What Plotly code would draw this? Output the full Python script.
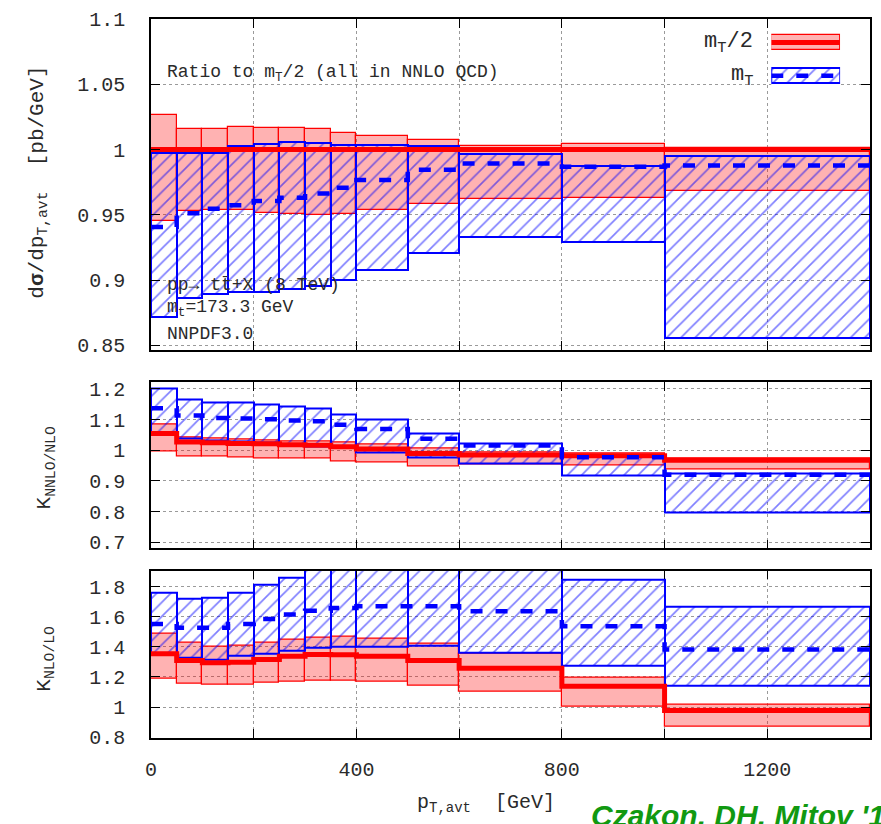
import plotly.graph_objects as go

# ---------------- data ----------------
bin_edges = [0, 50, 100, 150, 200, 250, 300, 350, 400, 500, 600, 800, 1000, 1400]

# top panel: ratio to mT/2 (NNLO)
top_half_lo = [0.9453, 0.953, 0.954, 0.954, 0.9517, 0.9504, 0.9497, 0.9504, 0.9535, 0.958, 0.962, 0.9631, 0.968]
top_half_hi = [1.0267, 1.016, 1.0158, 1.017, 1.0166, 1.0166, 1.016, 1.0127, 1.0102, 1.0076, 1.003, 1.0043, 1.001]
top_half_c = [1.0, 1.0, 1.0, 1.0, 1.0, 1.0, 1.0, 1.0, 1.0, 1.0, 1.0, 1.0, 1.0]
top_mt_lo = [0.8715, 0.8863, 0.8893, 0.8906, 0.8911, 0.8931, 0.8952, 0.9003, 0.908, 0.9211, 0.9326, 0.9293, 0.8557]
top_mt_hi = [0.997, 0.9975, 0.9975, 1.0026, 1.0043, 1.0056, 1.005, 1.0038, 1.0038, 1.0026, 0.9967, 0.9875, 0.9954]
top_mt_c = [0.9407, 0.9511, 0.9547, 0.9573, 0.9606, 0.9631, 0.9664, 0.9708, 0.9766, 0.9845, 0.9893, 0.9868, 0.9878]

# middle panel: K NNLO/NLO
mid_half_lo = [0.997, 0.9805, 0.978, 0.977, 0.974, 0.973, 0.973, 0.964, 0.961, 0.948, 0.952, 0.950, 0.937]
mid_half_hi = [1.083, 1.040, 1.037, 1.035, 1.031, 1.029, 1.029, 1.024, 1.018, 1.004, 0.993, 0.988, 0.973]
mid_half_c = [1.054, 1.027, 1.024, 1.022, 1.021, 1.018, 1.016, 1.011, 1.004, 0.989, 0.984, 0.982, 0.967]
mid_mt_lo = [1.054, 1.038, 1.032, 1.027, 1.024, 1.020, 1.013, 1.010, 0.994, 0.977, 0.957, 0.918, 0.797]
mid_mt_hi = [1.202, 1.165, 1.157, 1.154, 1.148, 1.143, 1.137, 1.116, 1.100, 1.056, 1.022, 0.980, 0.924]
mid_mt_c = [1.137, 1.113, 1.105, 1.103, 1.101, 1.097, 1.094, 1.083, 1.069, 1.037, 1.015, 0.977, 0.920]

# bottom panel: K NLO/LO
bot_half_lo = [1.188, 1.155, 1.148, 1.152, 1.162, 1.170, 1.177, 1.177, 1.170, 1.144, 1.100, 1.000, 0.872]
bot_half_hi = [1.490, 1.426, 1.402, 1.409, 1.426, 1.444, 1.460, 1.465, 1.453, 1.420, 1.354, 1.192, 1.016]
bot_half_c = [1.354, 1.309, 1.294, 1.298, 1.316, 1.338, 1.349, 1.347, 1.338, 1.309, 1.258, 1.139, 0.978]
bot_mt_lo = [1.347, 1.331, 1.316, 1.338, 1.354, 1.375, 1.391, 1.402, 1.402, 1.410, 1.360, 1.272, 1.139]
bot_mt_hi = [1.758, 1.718, 1.724, 1.762, 1.812, 1.861, 1.950, 1.990, 2.000, 2.000, 1.970, 1.846, 1.669]
bot_mt_c = [1.552, 1.526, 1.526, 1.552, 1.585, 1.614, 1.640, 1.658, 1.669, 1.669, 1.636, 1.536, 1.382]

x_tick_vals = [0, 200, 400, 600, 800, 1000, 1200, 1400]
x_tick_text = ["0", "", "400", "", "800", "", "1200", ""]
top_ticks = [0.85, 0.9, 0.95, 1.0, 1.05, 1.1]
top_tick_text = ["0.85", "0.9", "0.95", "1", "1.05", "1.1"]
mid_ticks = [0.7, 0.8, 0.9, 1.0, 1.1, 1.2]
mid_tick_text = ["0.7", "0.8", "0.9", "1", "1.1", "1.2"]
bot_ticks = [0.8, 1.0, 1.2, 1.4, 1.6, 1.8]
bot_tick_text = ["0.8", "1", "1.2", "1.4", "1.6", "1.8"]

# ---------------- styles ----------------
RED = "#ff0000"
BLUE = "#0000ff"
RED_FILL = "rgba(255,0,0,0.30)"
MONO = "Liberation Mono, Courier New, monospace"
TXT = "#2a2a2a"
HATCH = dict(shape="/", fgcolor=BLUE, bgcolor="rgba(0,0,0,0)", size=10, solidity=0.17)

centers = [(a + b) / 2 for a, b in zip(bin_edges[:-1], bin_edges[1:])]
widths = [b - a for a, b in zip(bin_edges[:-1], bin_edges[1:])]

fig = go.Figure()

panels = [
    ("x", "y", top_half_lo, top_half_hi, top_half_c, top_mt_lo, top_mt_hi, top_mt_c),
    ("x2", "y2", mid_half_lo, mid_half_hi, mid_half_c, mid_mt_lo, mid_mt_hi, mid_mt_c),
    ("x3", "y3", bot_half_lo, bot_half_hi, bot_half_c, bot_mt_lo, bot_mt_hi, bot_mt_c),
]

for xa, ya, hlo, hhi, hc, mlo, mhi, mc in panels:
    fig.add_trace(go.Bar(
        x=centers, width=widths, base=hlo, y=[h - l for h, l in zip(hhi, hlo)],
        xaxis=xa, yaxis=ya, showlegend=False, hoverinfo="skip",
        marker=dict(color=RED_FILL, line=dict(color=RED, width=1.2)),
    ))
    fig.add_trace(go.Bar(
        x=centers, width=widths, base=mlo, y=[h - l for h, l in zip(mhi, mlo)],
        xaxis=xa, yaxis=ya, showlegend=False, hoverinfo="skip",
        marker=dict(color="rgba(0,0,0,0)", pattern=HATCH,
                    line=dict(color=BLUE, width=2)),
    ))
    fig.add_trace(go.Scatter(
        x=bin_edges, y=list(hc) + [hc[-1]], mode="lines", line_shape="hv",
        line=dict(color=RED, width=5), xaxis=xa, yaxis=ya, showlegend=False,
        hoverinfo="skip",
    ))
    fig.add_trace(go.Scatter(
        x=bin_edges, y=list(mc) + [mc[-1]], mode="lines", line_shape="hv",
        line=dict(color=BLUE, width=4.5, dash="12px,13px"), xaxis=xa, yaxis=ya,
        showlegend=False, hoverinfo="skip",
    ))

# ---------------- legend keys (own small axes) ----------------
key_x = [0.5]
fig.add_trace(go.Bar(x=key_x, base=[-47], y=[15], width=[1], xaxis="x4", yaxis="y4",
                     showlegend=False, hoverinfo="skip",
                     marker=dict(color=RED_FILL, line=dict(color=RED, width=1.2))))
fig.add_trace(go.Scatter(x=[0, 1], y=[-39.5, -39.5], mode="lines", xaxis="x4", yaxis="y4",
                         line=dict(color=RED, width=5), showlegend=False, hoverinfo="skip"))
fig.add_trace(go.Bar(x=key_x, base=[-80.5], y=[15], width=[1], xaxis="x4", yaxis="y4",
                     showlegend=False, hoverinfo="skip",
                     marker=dict(color="rgba(0,0,0,0)", pattern=HATCH,
                                 line=dict(color=BLUE, width=2))))
fig.add_trace(go.Scatter(x=[0, 1], y=[-73, -73], mode="lines", xaxis="x4", yaxis="y4",
                         line=dict(color=BLUE, width=4.5, dash="12px,13px"),
                         showlegend=False, hoverinfo="skip"))

# ---------------- axes ----------------
def xaxis(anchor, labels):
    return dict(
        range=[0, 1400], tickvals=x_tick_vals, ticktext=x_tick_text,
        ticks="inside", ticklen=9, tickwidth=1.2, tickcolor="black",
        showline=True, linecolor="black", linewidth=1.5, mirror="allticks",
        showgrid=True, gridcolor="#9a9a9a", griddash="dot", gridwidth=1,
        zeroline=False, anchor=anchor, showticklabels=labels,
        tickfont=dict(family=MONO, size=20, color=TXT), ticklabelstandoff=12,
    )


def yaxis(domain, rng, tv, tt):
    return dict(
        domain=domain, range=rng, tickvals=tv, ticktext=tt,
        ticks="inside", ticklen=9, tickwidth=1.2, tickcolor="black",
        showline=True, linecolor="black", linewidth=1.5, mirror="allticks",
        showgrid=True, gridcolor="#9a9a9a", griddash="dot", gridwidth=1,
        zeroline=False, tickfont=dict(family=MONO, size=20, color=TXT),
        ticklabelstandoff=20,
    )

fig.update_layout(
    width=881, height=824,
    margin=dict(l=151, r=9, t=16, b=86),
    paper_bgcolor="white", plot_bgcolor="white",
    barmode="overlay", bargap=0,
    xaxis=xaxis("y", False),
    xaxis2=xaxis("y2", False),
    xaxis3=xaxis("y3", True),
    yaxis=yaxis([0.540, 1.0], [0.8466, 1.1], top_ticks, top_tick_text),
    yaxis2=yaxis([0.2636, 0.4945], [0.6795, 1.2208], mid_ticks, mid_tick_text),
    yaxis3=yaxis([0.0, 0.2327], [0.795, 1.905], bot_ticks, bot_tick_text),
    xaxis4=dict(domain=[0.8627, 0.9584], range=[0, 1], visible=False, anchor="y4"),
    yaxis4=dict(domain=[0.8975, 0.9875], range=[-90, -25], visible=False, anchor="x4"),
    showlegend=False,
)
fig.update_xaxes(matches="x3", selector=dict(anchor="y"))
fig.update_xaxes(matches="x3", selector=dict(anchor="y2"))

ann = []
ann.append(dict(text="Ratio to m<sub>T</sub>/2 (all in NNLO QCD)", xref="x", yref="y",
                x=27, y=1.0585, xanchor="left", yanchor="middle", showarrow=False,
                font=dict(family=MONO, size=18, color=TXT)))
ann.append(dict(text="pp\u2192 tt\u0304+X (8 TeV)", xref="x", yref="y", x=27, y=0.896,
                xanchor="left", yanchor="middle", showarrow=False,
                font=dict(family=MONO, size=18, color=TXT)))
ann.append(dict(text="m<sub>t</sub>=173.3 GeV", xref="x", yref="y", x=27, y=0.8785,
                xanchor="left", yanchor="middle", showarrow=False,
                font=dict(family=MONO, size=18, color=TXT)))
ann.append(dict(text="NNPDF3.0", xref="x", yref="y", x=27, y=0.8585,
                xanchor="left", yanchor="middle", showarrow=False,
                font=dict(family=MONO, size=18, color=TXT)))
# legend texts
ann.append(dict(text="m<sub>T</sub>/2", xref="paper", yref="paper", x=(757 - 151) / 721,
                y=(738 - 40) / 722, xanchor="right", yanchor="middle", showarrow=False,
                font=dict(family=MONO, size=22, color=TXT)))
ann.append(dict(text="m<sub>T</sub>", xref="paper", yref="paper", x=(757 - 151) / 721,
                y=(738 - 73) / 722, xanchor="right", yanchor="middle", showarrow=False,
                font=dict(family=MONO, size=22, color=TXT)))
# y titles
ann.append(dict(text="d<b>\u03c3</b>/dp<sub>T,avt</sub>  [pb/GeV]", xref="paper", yref="paper",
                x=(38 - 151) / 721, y=(738 - 180) / 722, textangle=-90,
                xanchor="center", yanchor="middle", showarrow=False,
                font=dict(family=MONO, size=21, color=TXT)))
ann.append(dict(text="K<sub>NNLO/NLO</sub>", xref="paper", yref="paper",
                x=(45 - 151) / 721, y=(738 - 467) / 722, textangle=-90,
                xanchor="center", yanchor="middle", showarrow=False,
                font=dict(family=MONO, size=21, color=TXT)))
ann.append(dict(text="K<sub>NLO/LO</sub>", xref="paper", yref="paper",
                x=(45 - 151) / 721, y=(738 - 658) / 722, textangle=-90,
                xanchor="center", yanchor="middle", showarrow=False,
                font=dict(family=MONO, size=21, color=TXT)))
# x title
ann.append(dict(text="p<sub>T,avt</sub>  [GeV]", xref="paper", yref="paper",
                x=(487 - 151) / 721, y=(738 - 804) / 722,
                xanchor="center", yanchor="middle", showarrow=False,
                font=dict(family=MONO, size=20, color=TXT)))
# credit (cut off at the page edge, as in the original)
ann.append(dict(text="<b><i>Czakon, DH, Mitov '16</i></b>", xref="paper", yref="paper",
                x=(590 - 151) / 721, y=(738 - 797) / 722,
                xanchor="left", yanchor="top", showarrow=False,
                font=dict(family="Liberation Sans, Arial, sans-serif", size=30, color="#119911")))
fig.update_layout(annotations=ann)

fig.write_html("out.html")
